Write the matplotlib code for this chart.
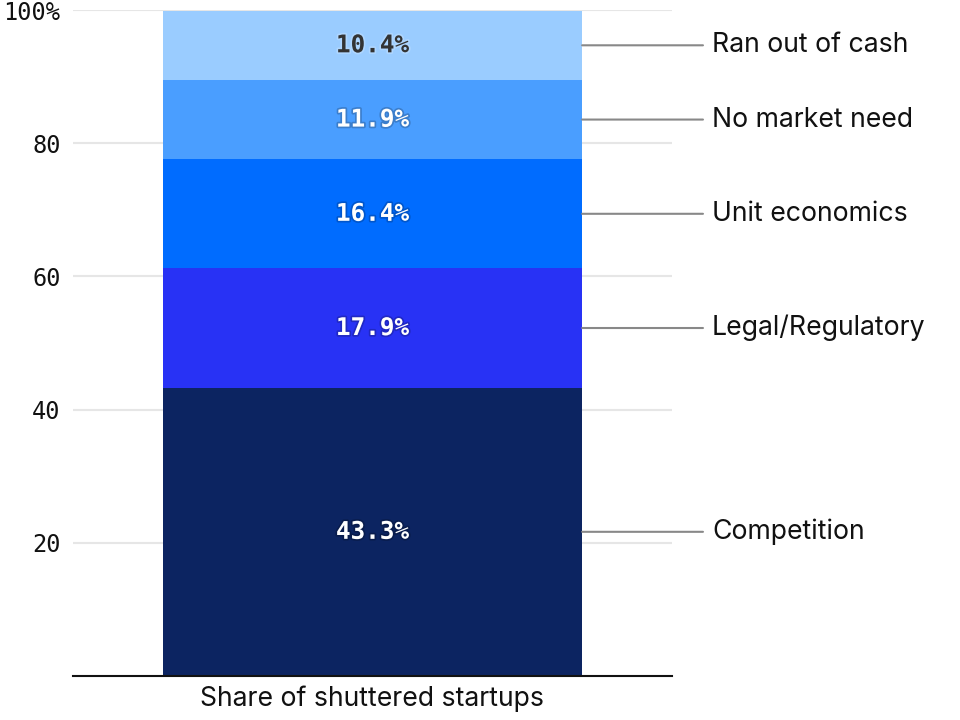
import matplotlib
matplotlib.use("Agg")
import matplotlib.pyplot as plt
import matplotlib.patheffects as pe

categories = ["Competition", "Legal/Regulatory", "Unit economics", "No market need", "Ran out of cash"]
values = [43.3, 17.9, 16.4, 11.9, 10.4]
colors = ["#0c2461", "#2832f5", "#006cff", "#4a9eff", "#9accff"]
bar_label = "Share of shuttered startups"
yticks = [20, 40, 60, 80, 100]
ytick_labels = ["20", "40", "60", "80", "100%"]

fig = plt.figure(figsize=(9.6, 7.2), dpi=100)
ax = fig.add_axes([73/960, 1-676/720, 599/960, 666/720])

bottom = 0
for cat, v, c in zip(categories, values, colors):
    ax.bar(0, v, width=0.7, bottom=bottom, color=c, zorder=2)
    mid = bottom + v / 2
    tcol = "#333333" if c == "#9accff" else "white"
    shadow = "#ffffff" if c == "#9accff" else "#000000"
    ax.text(0, mid, f"{v:.1f}%", ha="center", va="center", color=tcol,
            fontsize=17.5, fontweight="bold", family="DejaVu Sans Mono", zorder=3,
            path_effects=[pe.withStroke(linewidth=2.5, foreground=shadow, alpha=0.2)])
    ax.annotate(cat, xy=(0.35, mid), xycoords="data",
                xytext=(712/960, mid), textcoords=("figure fraction", "data"),
                va="center", ha="left", fontsize=19.2, family="Inter", color="#111111",
                arrowprops=dict(arrowstyle="-", color="#888888", lw=1.5,
                                shrinkA=4.5, shrinkB=0),
                annotation_clip=False)
    bottom += v

ax.set_xlim(-0.5, 0.5)
ax.set_ylim(0, 100)
ax.set_yticks(yticks)
ax.set_yticklabels(ytick_labels, family="DejaVu Sans Mono", fontsize=17, color="#111111")
ax.set_xticks([0])
ax.set_xticklabels([bar_label], family="Inter", fontsize=19.2, color="#111111")
ax.tick_params(axis="both", length=0)
ax.tick_params(axis="y", pad=9)
ax.tick_params(axis="x", pad=7)
ax.grid(axis="y", color="#e6e6e6", lw=1.5, zorder=0)
for s in ["top", "right", "left"]:
    ax.spines[s].set_visible(False)
ax.spines["bottom"].set_color("#111111")
ax.spines["bottom"].set_linewidth(1.5)

fig.savefig("out.png", dpi=100)
